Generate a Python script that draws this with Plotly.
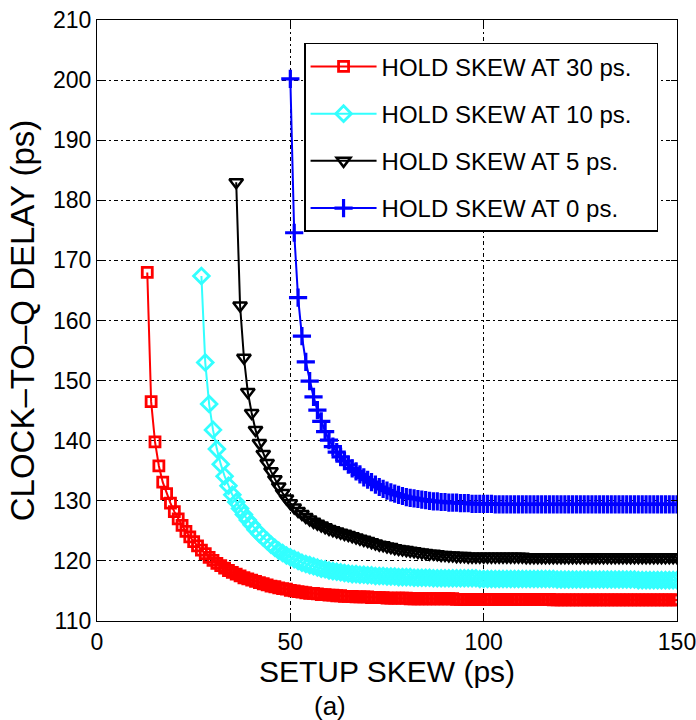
import plotly.graph_objects as go

# ---------------- data ----------------
red_x = list(range(13, 151))
red_y = [
    168.0, 146.5, 139.8, 135.8, 133.1, 131.2, 129.6, 128.2, 127.0, 125.9,
    124.9, 124.0, 123.2, 122.5, 121.8, 121.2, 120.6, 120.1, 119.6, 119.2,
    118.8, 118.4, 118.1, 117.8, 117.5, 117.2, 117.0, 116.8, 116.6, 116.4,
    116.2, 116.0, 115.8, 115.7, 115.5, 115.4, 115.3, 115.1, 115.0, 114.9,
    114.8, 114.7, 114.6, 114.6, 114.5, 114.4, 114.4, 114.3, 114.3, 114.2,
    114.2, 114.1, 114.1, 114.1, 114.0, 114.0, 114.0, 114.0, 113.9, 113.9,
    113.9, 113.9, 113.8, 113.8, 113.8, 113.8, 113.8, 113.8, 113.7, 113.7,
    113.7, 113.7, 113.7, 113.7, 113.7, 113.7, 113.7, 113.7, 113.7, 113.7,
    113.6, 113.6, 113.6, 113.6, 113.6, 113.6, 113.6, 113.6, 113.6, 113.6,
    113.6, 113.6, 113.6, 113.6, 113.6, 113.6, 113.6, 113.6, 113.6, 113.6,
    113.6, 113.6, 113.6, 113.6, 113.6, 113.5, 113.5, 113.5, 113.5, 113.5,
    113.5, 113.5, 113.5, 113.5, 113.5, 113.5, 113.5, 113.5, 113.5, 113.5,
    113.5, 113.5, 113.5, 113.5, 113.5, 113.5, 113.5, 113.5, 113.5, 113.5,
    113.5, 113.5, 113.5, 113.5, 113.5, 113.5, 113.5, 113.5,
]

cyan_x = list(range(27, 151))
cyan_y = [
    167.4, 153.0, 146.1, 141.8, 138.6, 136.1, 134.1, 132.5, 131.0, 129.8,
    128.7, 127.7, 126.8, 126.0, 125.2, 124.5, 123.9, 123.3, 122.7, 122.2,
    121.7, 121.3, 120.9, 120.6, 120.3, 120.0, 119.7, 119.5, 119.3, 119.1,
    118.9, 118.7, 118.6, 118.4, 118.3, 118.2, 118.1, 118.0, 117.9, 117.8,
    117.8, 117.7, 117.7, 117.6, 117.6, 117.5, 117.5, 117.5, 117.4, 117.4,
    117.4, 117.3, 117.3, 117.3, 117.3, 117.2, 117.2, 117.2, 117.2, 117.2,
    117.1, 117.1, 117.1, 117.1, 117.1, 117.1, 117.1, 117.1, 117.1, 117.1,
    117.1, 117.1, 117.0, 117.0, 117.0, 117.0, 117.0, 117.0, 117.0, 117.0,
    117.0, 117.0, 117.0, 117.0, 117.0, 117.0, 117.0, 117.0, 117.0, 117.0,
    117.0, 117.0, 116.9, 116.9, 116.9, 116.9, 116.9, 116.9, 116.9, 116.9,
    116.9, 116.9, 116.9, 116.9, 116.9, 116.9, 116.9, 116.9, 116.9, 116.9,
    116.9, 116.9, 116.9, 116.8, 116.8, 116.8, 116.8, 116.8, 116.8, 116.8,
    116.8, 116.8, 116.8, 116.8,
]

black_x = list(range(36, 151))
black_y = [
    183.0, 162.5, 153.8, 148.1, 144.6, 141.8, 139.6, 137.8, 136.3, 134.9,
    133.6, 132.4, 131.3, 130.4, 129.6, 128.9, 128.3, 127.8, 127.3, 126.9,
    126.5, 126.2, 125.9, 125.6, 125.3, 125.1, 124.9, 124.7, 124.5, 124.3,
    124.1, 123.9, 123.7, 123.5, 123.3, 123.1, 122.9, 122.7, 122.6, 122.4,
    122.3, 122.1, 122.0, 121.9, 121.8, 121.7, 121.6, 121.5, 121.4, 121.3,
    121.2, 121.2, 121.1, 121.0, 121.0, 120.9, 120.9, 120.8, 120.8, 120.8,
    120.7, 120.7, 120.7, 120.7, 120.7, 120.7, 120.7, 120.7, 120.7, 120.7,
    120.7, 120.7, 120.7, 120.7, 120.7, 120.6, 120.6, 120.6, 120.6, 120.6,
    120.6, 120.6, 120.6, 120.6, 120.6, 120.6, 120.6, 120.6, 120.6, 120.6,
    120.6, 120.6, 120.6, 120.6, 120.6, 120.6, 120.6, 120.6, 120.6, 120.6,
    120.6, 120.6, 120.6, 120.6, 120.6, 120.6, 120.6, 120.6, 120.6, 120.6,
    120.6, 120.6, 120.6, 120.6, 120.6,
]

blue_x = list(range(50, 151))
blue_y = [
    200.2, 174.6, 163.8, 157.4, 153.1, 149.9, 147.3, 145.1, 143.2, 141.5,
    140.1, 139.0, 138.1, 137.3, 136.6, 136.0, 135.4, 134.9, 134.4, 133.9,
    133.5, 133.1, 132.7, 132.3, 132.0, 131.7, 131.4, 131.2, 131.0, 130.8,
    130.6, 130.5, 130.4, 130.3, 130.2, 130.1, 130.0, 129.9, 129.9, 129.8,
    129.8, 129.7, 129.7, 129.7, 129.6, 129.6, 129.6, 129.5, 129.5, 129.5,
    129.5, 129.5, 129.5, 129.4, 129.4, 129.4, 129.4, 129.4, 129.4, 129.4,
    129.4, 129.4, 129.4, 129.4, 129.4, 129.4, 129.4, 129.4, 129.4, 129.4,
    129.4, 129.4, 129.4, 129.4, 129.4, 129.4, 129.4, 129.4, 129.4, 129.4,
    129.4, 129.4, 129.4, 129.4, 129.4, 129.4, 129.4, 129.4, 129.4, 129.4,
    129.4, 129.4, 129.4, 129.4, 129.4, 129.4, 129.4, 129.4, 129.4, 129.4,
    129.4,
]

series_names = [
    "HOLD SKEW AT 30 ps.\u00a0\u00a0\u00a0",
    "HOLD SKEW AT 10 ps.",
    "HOLD SKEW AT 5 ps.",
    "HOLD SKEW AT 0 ps.",
]
x_ticks = [0, 50, 100, 150]
y_ticks = [110, 120, 130, 140, 150, 160, 170, 180, 190, 200, 210]

# ---------------- figure ----------------
FONT = "Liberation Sans, Arial, Helvetica, sans-serif"
styles = [
    dict(color="#FF0000", symbol="square-open", size=10, lw=2.8),
    dict(color="#33FFFF", symbol="diamond-open", size=12, lw=2.8),
    dict(color="#000000", symbol="triangle-down-open", size=12, lw=2.5),
    dict(color="#0000FF", symbol="cross-thin-open", size=13, lw=3.2),
]
data = [(red_x, red_y), (cyan_x, cyan_y), (black_x, black_y), (blue_x, blue_y)]

fig = go.Figure()
for (xs, ys), name, st in zip(data, series_names, styles):
    fig.add_trace(go.Scatter(
        x=xs, y=ys, name=name, mode="lines+markers",
        legendgroup=name,
        line=dict(color=st["color"], width=2),
        marker=dict(symbol=st["symbol"], size=st["size"], color=st["color"],
                    line=dict(color=st["color"], width=st["lw"])),
    ))

axis_common = dict(
    showline=True, linecolor="#000000", linewidth=1.3, mirror="ticks",
    ticks="inside", ticklen=6, tickwidth=1.2, tickcolor="#000000",
    showgrid=True, gridcolor="#000000", gridwidth=1, griddash="2px,3px,4px,3px",
    zeroline=False, tickfont=dict(family=FONT, size=23, color="#000000"),
    ticklabeloverflow="allow", automargin=False,
)

fig.update_xaxes(range=[0, 150], tickvals=x_ticks,
                 title=dict(text="SETUP SKEW (ps)", font=dict(family=FONT, size=30, color="#000000"), standoff=4),
                 **axis_common)
fig.update_yaxes(range=[110, 210], tickvals=y_ticks,
                 title=dict(text="CLOCK\u2013TO\u2013Q DELAY (ps)", font=dict(family=FONT, size=33, color="#000000"), standoff=8),
                 **axis_common)

fig.add_annotation(text="(a)", xref="paper", yref="paper", x=0.402, y=-0.141,
                   showarrow=False, font=dict(family=FONT, size=26, color="#000000"),
                   xanchor="center", yanchor="middle")

fig.update_layout(
    width=696, height=720,
    margin=dict(l=97, r=19, t=20, b=99),
    paper_bgcolor="white", plot_bgcolor="white",
    showlegend=True,
    legend=dict(x=0.357, y=0.962, xanchor="left", yanchor="top",
                bgcolor="white", bordercolor="#000000", borderwidth=1.5,
                font=dict(family=FONT, size=24, color="#000000"),
                itemwidth=66, tracegroupgap=13),
)

fig.write_html("out.html")
